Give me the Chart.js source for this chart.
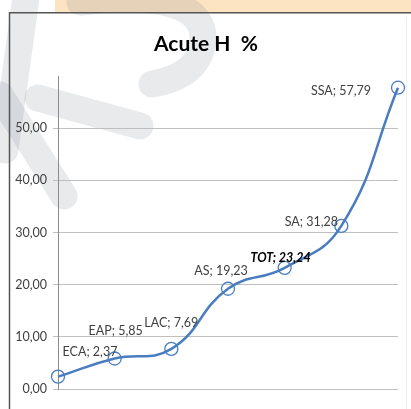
<!DOCTYPE html>
<html>
<head>
<meta charset="utf-8">
<script src="https://cdn.jsdelivr.net/npm/chart.js@4.4.1/dist/chart.umd.min.js"></script>
<style>
  html, body { margin: 0; padding: 0; background: #fff; }
  #wrap { position: relative; width: 411px; height: 409px; overflow: hidden; }
  #wrap svg, #wrap canvas { position: absolute; left: 0; top: 0; }
</style>
</head>
<body>
<div id="wrap">
  <!-- watermark behind the chart -->
  <svg width="411" height="409">
    <rect x="55" y="0" width="356" height="12" fill="#fce3c1"/>
    <g stroke="rgba(120,130,145,0.17)" stroke-width="27" stroke-linecap="round" fill="none">
      <path d="M 27 -10 L 5 150"/>
      <path d="M 0 95 L 64 196"/>
      <path d="M 38 98 L 140 126"/>
      <path d="M 80 2 Q 205 -12 203 40 Q 200 76 152 84"/>
    </g>
  </svg>
  <canvas id="chart" width="411" height="409"></canvas>
</div>
<script>
const categories = ['ECA', 'EAP', 'LAC', 'AS', 'TOT', 'SA', 'SSA'];
const values = [2.37, 5.85, 7.69, 19.23, 23.24, 31.28, 57.79];
const yTicks = [0, 10, 20, 30, 40, 50];

// where each data label sits relative to its point
const labelOffsets = [[32, -25], [1, -28], [0, -26], [-7, -18], [-4, -10], [-30, -4], [-57, 3]];

const fmt = v => v.toFixed(2).replace('.', ',');
const FONT = 'Lato, "Open Sans", sans-serif';

const frame = {
    id: 'frame',
    beforeDraw(chart) {
        const ctx = chart.ctx;
        ctx.save();
        ctx.strokeStyle = '#eeeeee';
        ctx.lineWidth = 1;
        ctx.beginPath();
        ctx.moveTo(406.5, 17);
        ctx.lineTo(406.5, 409);
        ctx.stroke();
        ctx.strokeStyle = '#555555';
        ctx.lineWidth = 1.5;
        ctx.beginPath();
        ctx.moveTo(9.5, 409);
        ctx.lineTo(9.5, 12.75);
        ctx.lineTo(411, 12.75);
        ctx.stroke();
        ctx.restore();
    }
};

const pointLabels = {
    id: 'pointLabels',
    afterDatasetsDraw(chart) {
        const ctx = chart.ctx;
        const meta = chart.getDatasetMeta(0);
        ctx.save();
        ctx.textAlign = 'center';
        ctx.textBaseline = 'middle';
        meta.data.forEach((pt, i) => {
            const isTot = categories[i] === 'TOT';
            ctx.font = (isTot ? 'italic bold ' : '') + '12.5px ' + FONT;
            ctx.fillStyle = isTot ? '#000000' : '#404040';
            const [dx, dy] = labelOffsets[i];
            ctx.fillText(categories[i] + '; ' + fmt(values[i]), pt.x + dx, pt.y + dy);
        });
        ctx.restore();
    }
};

new Chart(document.getElementById('chart'), {
    type: 'line',
    data: {
        labels: categories,
        datasets: [{
            data: values,
            borderColor: '#4a7dc0',
            borderWidth: 2.5,
            tension: 0.45,
            pointRadius: 6.5,
            pointBorderWidth: 1.3,
            pointBorderColor: '#4a7dc0',
            pointBackgroundColor: 'rgba(255,255,255,0)',
            clip: false
        }]
    },
    options: {
        responsive: false,
        devicePixelRatio: 1,
        animation: false,
        layout: {padding: {top: 20, left: 14, right: 13, bottom: 20}},
        plugins: {
            legend: {display: false},
            tooltip: {enabled: false},
            title: {
                display: true,
                text: 'Acute H  %',
                color: '#000000',
                font: {family: FONT, size: 21, weight: 'bold'},
                padding: {top: 12, bottom: 19}
            }
        },
        scales: {
            x: {
                display: false,
                offset: false
            },
            y: {
                min: 0,
                max: 60,
                afterBuildTicks: s => { s.ticks = yTicks.map(v => ({value: v})); },
                afterFit: s => { s.width = 44; },
                ticks: {
                    color: '#404040',
                    padding: 6,
                    font: {family: FONT, size: 12.5},
                    callback: v => fmt(v)
                },
                grid: {color: '#bfbfbf', tickLength: 5},
                border: {color: '#8c8c8c'}
            }
        }
    },
    plugins: [frame, pointLabels]
});
</script>
</body>
</html>
